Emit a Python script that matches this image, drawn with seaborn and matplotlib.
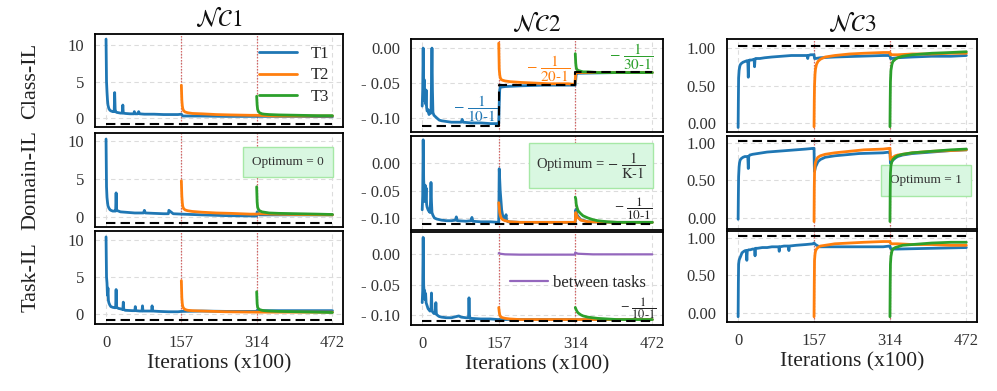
import matplotlib
matplotlib.use("Agg")
import matplotlib.pyplot as plt
from matplotlib.lines import Line2D
import seaborn as sns

# ---------------- data ----------------
TASK_BOUNDS = [157, 314]
X_TICKS = [0, 157, 314, 472]
X_TICK_LABELS = ["0", "157", "314", "472"]
ROW_NAMES = ["Class-IL", "Domain-IL", "Task-IL"]
COL_TITLES = [r"$\mathcal{NC}1$", r"$\mathcal{NC}2$", r"$\mathcal{NC}3$"]
TASK_NAMES = ["T1", "T2", "T3"]

# ---- NC1 ----
nc1_class_t1_x = [0, 1, 2, 3, 4, 6, 8, 10, 14, 17, 18, 19, 20, 22, 26, 30, 34, 35, 36, 40, 50, 58, 59, 60, 66, 68, 70, 80, 100, 120, 140, 150, 157, 160, 200, 250, 314, 350, 400, 472]
nc1_class_t1_y = [10.8, 5.0, 3.6, 2.5, 1.8, 1.3, 1.1, 1.0, 0.9, 0.9, 3.5, 1.2, 0.9, 0.8, 0.75, 0.7, 0.7, 1.8, 0.7, 0.65, 0.6, 0.6, 0.9, 0.6, 0.6, 0.9, 0.6, 0.55, 0.55, 0.5, 0.5, 0.5, 0.55, 0.3, 0.3, 0.25, 0.25, 0.25, 0.25, 0.2]
nc1_class_t2_x = [157, 158, 159, 160, 162, 165, 170, 180, 200, 230, 260, 300, 314, 350, 400, 472]
nc1_class_t2_y = [4.5, 2.5, 1.7, 1.3, 1.0, 0.85, 0.75, 0.65, 0.6, 0.5, 0.45, 0.4, 0.4, 0.3, 0.3, 0.3]
nc1_class_t3_x = [314, 315, 316, 318, 320, 325, 330, 340, 360, 400, 440, 472]
nc1_class_t3_y = [3.0, 1.8, 1.2, 0.9, 0.75, 0.6, 0.55, 0.5, 0.45, 0.4, 0.35, 0.35]

nc1_domain_t1_x = [0, 1, 2, 3, 4, 6, 8, 10, 14, 18, 20, 21, 22, 26, 30, 40, 50, 60, 70, 78, 80, 82, 100, 120, 130, 131, 140, 157, 200, 250, 314, 315, 320, 400, 472]
nc1_domain_t1_y = [10.3, 4.0, 2.6, 2.0, 1.5, 1.2, 1.0, 0.9, 0.8, 0.8, 0.8, 3.2, 0.9, 0.8, 0.7, 0.65, 0.6, 0.55, 0.55, 0.55, 0.9, 0.55, 0.5, 0.45, 0.45, 0.9, 0.45, 0.4, 0.3, 0.2, 0.15, 0.7, 0.3, 0.3, 0.3]
nc1_domain_t2_x = [157, 158, 159, 160, 162, 165, 170, 180, 200, 230, 260, 300, 314, 320, 350, 400, 472]
nc1_domain_t2_y = [4.8, 2.8, 1.9, 1.4, 1.1, 0.95, 0.85, 0.75, 0.65, 0.55, 0.5, 0.4, 0.4, 0.45, 0.4, 0.35, 0.3]
nc1_domain_t3_x = [314, 315, 316, 318, 320, 325, 330, 340, 360, 400, 440, 472]
nc1_domain_t3_y = [4.0, 2.0, 1.3, 1.0, 0.85, 0.7, 0.65, 0.55, 0.5, 0.45, 0.4, 0.35]

nc1_task_t1_x = [0, 1, 2, 3, 4, 5, 6, 8, 10, 14, 18, 20, 21, 22, 26, 30, 35, 36, 37, 40, 55, 60, 61, 62, 70, 75, 76, 77, 90, 95, 96, 97, 110, 130, 150, 157, 200, 250, 314, 315, 320, 400, 472]
nc1_task_t1_y = [10.4, 5.0, 4.2, 2.5, 3.5, 1.8, 1.5, 1.2, 1.0, 0.9, 0.85, 0.85, 3.3, 0.9, 0.75, 0.7, 0.6, 1.6, 0.6, 0.5, 0.45, 0.45, 1.0, 0.45, 0.4, 0.4, 1.1, 0.4, 0.4, 0.4, 1.1, 0.4, 0.35, 0.3, 0.3, 0.35, 0.4, 0.35, 0.35, 0.5, 0.45, 0.45, 0.45]
nc1_task_t2_x = [157, 158, 159, 160, 162, 165, 170, 180, 200, 250, 314, 350, 400, 472]
nc1_task_t2_y = [4.5, 2.2, 1.4, 1.0, 0.75, 0.6, 0.5, 0.45, 0.4, 0.3, 0.25, 0.25, 0.25, 0.25]
nc1_task_t3_x = [314, 315, 316, 318, 320, 325, 330, 340, 360, 400, 440, 472]
nc1_task_t3_y = [3.0, 1.4, 0.9, 0.7, 0.6, 0.5, 0.45, 0.4, 0.35, 0.3, 0.25, 0.2]

nc1_optimum_x = [0, 472]
nc1_optimum_y = [-0.8, -0.8]

# ---- NC2 ----
nc2_class_t1_x = [0, 1, 2, 3, 4, 5, 6, 7, 8, 9, 10, 12, 14, 16, 18, 19, 20, 21, 22, 24, 27, 30, 35, 40, 50, 60, 70, 80, 82, 84, 100, 120, 140, 156, 157, 158, 159, 160, 170, 200, 250, 313, 314, 315, 316, 320, 400, 472]
nc2_class_t1_y = [-0.083, -0.06, 0.0, -0.06, -0.045, -0.075, -0.065, -0.08, -0.06, -0.085, -0.09, -0.088, -0.095, -0.09, -0.093, -0.05, 0.0, -0.06, -0.092, -0.096, -0.098, -0.1, -0.103, -0.104, -0.105, -0.106, -0.106, -0.106, -0.102, -0.106, -0.107, -0.107, -0.108, -0.108, -0.108, -0.08, -0.06, -0.056, -0.055, -0.054, -0.053, -0.053, -0.053, -0.045, -0.037, -0.036, -0.035, -0.035]
nc2_class_t2_x = [157, 158, 159, 160, 162, 165, 170, 180, 200, 230, 260, 300, 313, 314, 315, 316, 320, 360, 400, 472]
nc2_class_t2_y = [0.007, -0.03, -0.038, -0.042, -0.045, -0.046, -0.047, -0.048, -0.049, -0.05, -0.051, -0.051, -0.052, -0.045, -0.036, -0.035, -0.035, -0.035, -0.035, -0.035]
nc2_class_t3_x = [314, 315, 316, 317, 318, 320, 325, 330, 340, 360, 400, 472]
nc2_class_t3_y = [-0.008, -0.022, -0.028, -0.03, -0.031, -0.032, -0.033, -0.034, -0.034, -0.035, -0.035, -0.035]
nc2_class_optimum_x = [0, 157, 157, 314, 314, 472]
nc2_class_optimum_y = [-0.1111, -0.1111, -0.0526, -0.0526, -0.0345, -0.0345]

nc2_domain_t1_x = [0, 1, 2, 3, 4, 5, 6, 7, 8, 9, 10, 12, 14, 16, 17, 18, 19, 20, 22, 25, 30, 40, 50, 60, 68, 70, 72, 90, 100, 102, 104, 120, 140, 156, 157, 158, 160, 163, 166, 170, 171, 172, 173, 176, 200, 250, 313, 314, 315, 318, 325, 340, 400, 472]
nc2_domain_t1_y = [-0.085, -0.06, 0.043, -0.03, -0.05, -0.07, -0.04, -0.065, -0.045, -0.075, -0.08, -0.085, -0.088, -0.09, -0.07, -0.035, -0.07, -0.09, -0.095, -0.1, -0.102, -0.104, -0.105, -0.105, -0.104, -0.098, -0.105, -0.106, -0.105, -0.099, -0.106, -0.107, -0.107, -0.108, -0.108, -0.01, -0.05, -0.085, -0.1, -0.104, -0.098, -0.094, -0.104, -0.107, -0.108, -0.108, -0.108, -0.107, -0.085, -0.095, -0.103, -0.107, -0.108, -0.108]
nc2_domain_t2_x = [157, 158, 159, 160, 162, 165, 170, 180, 200, 250, 313, 314, 315, 318, 325, 340, 400, 472]
nc2_domain_t2_y = [-0.072, -0.08, -0.09, -0.095, -0.1, -0.103, -0.105, -0.107, -0.108, -0.108, -0.108, -0.106, -0.09, -0.098, -0.104, -0.107, -0.108, -0.108]
nc2_domain_t3_x = [314, 315, 316, 318, 320, 325, 330, 340, 350, 360, 380, 400, 440, 472]
nc2_domain_t3_y = [-0.062, -0.065, -0.075, -0.082, -0.087, -0.092, -0.096, -0.1, -0.103, -0.105, -0.107, -0.108, -0.108, -0.108]

nc2_task_t1_x = [0, 1, 2, 3, 4, 5, 6, 7, 8, 10, 12, 14, 16, 18, 19, 20, 21, 22, 24, 27, 28, 29, 30, 33, 35, 40, 50, 60, 70, 75, 80, 90, 95, 96, 97, 98, 100, 120, 140, 156, 157, 200, 250, 314, 400, 472]
nc2_task_t1_y = [-0.08, -0.06, 0.028, -0.05, -0.065, -0.06, -0.075, -0.065, -0.08, -0.085, -0.09, -0.092, -0.094, -0.09, -0.064, -0.09, -0.095, -0.096, -0.098, -0.098, -0.08, -0.098, -0.1, -0.102, -0.103, -0.104, -0.105, -0.105, -0.103, -0.102, -0.104, -0.105, -0.105, -0.072, -0.1, -0.106, -0.106, -0.107, -0.107, -0.108, -0.108, -0.108, -0.108, -0.108, -0.108, -0.108]
nc2_task_t2_x = [157, 158, 159, 160, 162, 165, 170, 180, 200, 250, 314, 400, 472]
nc2_task_t2_y = [-0.088, -0.095, -0.1, -0.102, -0.104, -0.105, -0.106, -0.107, -0.108, -0.108, -0.108, -0.108, -0.108]
nc2_task_t3_x = [314, 315, 316, 318, 320, 325, 330, 340, 350, 360, 380, 400, 472]
nc2_task_t3_y = [-0.088, -0.09, -0.092, -0.095, -0.097, -0.1, -0.102, -0.104, -0.105, -0.106, -0.107, -0.108, -0.108]
nc2_between_x = [157, 160, 170, 200, 250, 300, 313, 314, 316, 320, 350, 400, 472]
nc2_between_y = [0.002, 0.001, 0.0, -0.0005, -0.0005, -0.0005, -0.0005, 0.003, 0.002, 0.001, 0.0, 0.0, 0.0]
nc2_optimum_x = [0, 472]
nc2_optimum_y = [-0.1111, -0.1111]

# ---- NC3 ----
nc3_class_t1_x = [0, 0.5, 1, 2, 3, 4, 6, 8, 10, 14, 18, 20, 21, 22, 24, 28, 33, 34, 35, 36, 38, 45, 55, 70, 90, 110, 130, 143, 144, 145, 150, 156, 157, 158, 160, 170, 200, 250, 300, 313, 314, 315, 318, 330, 360, 400, 440, 472]
nc3_class_t1_y = [-0.06, 0.3, 0.6, 0.7, 0.74, 0.77, 0.79, 0.8, 0.81, 0.82, 0.83, 0.83, 0.61, 0.83, 0.84, 0.84, 0.85, 0.75, 0.85, 0.86, 0.86, 0.86, 0.87, 0.88, 0.89, 0.9, 0.9, 0.9, 0.86, 0.9, 0.91, 0.91, 0.91, 0.86, 0.86, 0.87, 0.88, 0.89, 0.9, 0.9, 0.9, 0.86, 0.86, 0.87, 0.88, 0.89, 0.89, 0.9]
nc3_class_t2_x = [157, 157.5, 158, 159, 160, 162, 165, 170, 180, 200, 230, 260, 300, 313, 314, 315, 318, 330, 360, 400, 440, 472]
nc3_class_t2_y = [-0.05, 0.3, 0.5, 0.65, 0.72, 0.78, 0.82, 0.85, 0.88, 0.9, 0.92, 0.93, 0.94, 0.94, 0.94, 0.91, 0.91, 0.91, 0.92, 0.92, 0.93, 0.93]
nc3_class_t3_x = [314, 314.5, 315, 316, 318, 320, 325, 330, 340, 360, 380, 400, 440, 472]
nc3_class_t3_y = [-0.05, 0.3, 0.55, 0.7, 0.78, 0.82, 0.85, 0.87, 0.89, 0.91, 0.92, 0.93, 0.94, 0.95]

nc3_domain_t1_x = [0, 0.5, 1, 2, 3, 4, 6, 8, 10, 14, 18, 20, 21, 22, 24, 30, 40, 60, 80, 100, 120, 140, 156, 157, 157.5, 158, 160, 165, 170, 180, 200, 250, 300, 313, 314, 315, 318, 325, 330, 340, 360, 400, 440, 472]
nc3_domain_t1_y = [-0.02, 0.3, 0.55, 0.68, 0.74, 0.77, 0.79, 0.8, 0.81, 0.82, 0.82, 0.82, 0.66, 0.82, 0.84, 0.85, 0.86, 0.88, 0.89, 0.9, 0.91, 0.92, 0.93, 0.93, 0.7, 0.62, 0.68, 0.75, 0.78, 0.81, 0.83, 0.86, 0.87, 0.88, 0.88, 0.73, 0.76, 0.8, 0.82, 0.84, 0.86, 0.88, 0.9, 0.91]
nc3_domain_t2_x = [157, 157.5, 158, 159, 160, 162, 165, 170, 180, 200, 230, 260, 300, 313, 314, 315, 318, 325, 330, 340, 360, 400, 440, 472]
nc3_domain_t2_y = [-0.05, 0.4, 0.6, 0.7, 0.74, 0.78, 0.81, 0.83, 0.85, 0.87, 0.89, 0.91, 0.92, 0.93, 0.93, 0.78, 0.8, 0.83, 0.84, 0.85, 0.87, 0.89, 0.9, 0.91]
nc3_domain_t3_x = [314, 314.5, 315, 316, 318, 320, 325, 330, 340, 360, 380, 400, 440, 472]
nc3_domain_t3_y = [-0.05, 0.35, 0.6, 0.7, 0.75, 0.78, 0.81, 0.83, 0.85, 0.87, 0.88, 0.89, 0.91, 0.92]

nc3_task_t1_x = [0, 0.5, 1, 2, 3, 5, 8, 12, 15, 17, 18, 19, 22, 25, 30, 34, 35, 36, 40, 50, 60, 70, 84, 85, 86, 95, 104, 105, 106, 120, 140, 156, 157, 160, 165, 170, 200, 250, 300, 313, 314, 315, 318, 330, 400, 472]
nc3_task_t1_y = [-0.05, 0.4, 0.65, 0.7, 0.72, 0.75, 0.8, 0.82, 0.83, 0.83, 0.7, 0.83, 0.84, 0.84, 0.85, 0.85, 0.76, 0.86, 0.86, 0.87, 0.87, 0.88, 0.88, 0.82, 0.88, 0.89, 0.89, 0.83, 0.89, 0.9, 0.91, 0.92, 0.93, 0.91, 0.89, 0.88, 0.88, 0.88, 0.88, 0.89, 0.89, 0.86, 0.85, 0.85, 0.86, 0.87]
nc3_task_t2_x = [157, 157.5, 158, 159, 160, 162, 165, 170, 180, 200, 230, 260, 300, 313, 314, 315, 318, 330, 360, 400, 440, 472]
nc3_task_t2_y = [-0.05, 0.4, 0.7, 0.78, 0.82, 0.85, 0.87, 0.89, 0.9, 0.92, 0.93, 0.94, 0.95, 0.95, 0.95, 0.93, 0.92, 0.92, 0.91, 0.91, 0.9, 0.9]
nc3_task_t3_x = [314, 314.5, 315, 316, 318, 320, 325, 330, 340, 360, 380, 400, 440, 472]
nc3_task_t3_y = [-0.05, 0.4, 0.65, 0.75, 0.82, 0.85, 0.87, 0.88, 0.9, 0.91, 0.92, 0.93, 0.94, 0.94]
nc3_optimum_x = [0, 472]
nc3_optimum_y = [1.03, 1.03]

# tick setup per column
nc1_yticks = [0, 5, 10]
nc1_yticklabels = ["0", "5", "10"]
nc2_yticks = [-0.10, -0.05, 0.0]
nc2_yticklabels = ["- 0.10", "- 0.05", "0.00"]
nc3_yticks = [0.0, 0.5, 1.0]
nc3_yticklabels = ["0.00", "0.50", "1.00"]

# ---------------- style ----------------
sns.set_theme(style="whitegrid")
plt.rcParams["font.family"] = ["Liberation Serif", "DejaVu Serif"]
plt.rcParams["mathtext.fontset"] = "stix"

COLORS = ["#1f77b4", "#ff7f0e", "#2ca02c"]
PURPLE = "#9467bd"

W, H = 997, 391
fig = plt.figure(figsize=(W / 100, H / 100), dpi=100)

# pixel boxes: (left, right) per column, (top, bottom) per column and row
col_x = [(95, 343), (411, 663), (727, 977)]
col_rows = [
    [(34, 127), (133, 227), (231, 324)],
    [(39, 132), (136, 230), (232, 325)],
    [(39, 132), (136, 229), (231, 322)],
]
col_ylims = [
    [(-1.2, 11.5), (-1.3, 11.1), (-1.35, 11.2)],
    [(-0.12, 0.013), (-0.122, 0.05), (-0.117, 0.037)],
    [(-0.12, 1.12), (-0.15, 1.095), (-0.12, 1.09)],
]

curves = [
    [
        [(nc1_class_t1_x, nc1_class_t1_y), (nc1_class_t2_x, nc1_class_t2_y), (nc1_class_t3_x, nc1_class_t3_y)],
        [(nc1_domain_t1_x, nc1_domain_t1_y), (nc1_domain_t2_x, nc1_domain_t2_y), (nc1_domain_t3_x, nc1_domain_t3_y)],
        [(nc1_task_t1_x, nc1_task_t1_y), (nc1_task_t2_x, nc1_task_t2_y), (nc1_task_t3_x, nc1_task_t3_y)],
    ],
    [
        [(nc2_class_t1_x, nc2_class_t1_y), (nc2_class_t2_x, nc2_class_t2_y), (nc2_class_t3_x, nc2_class_t3_y)],
        [(nc2_domain_t1_x, nc2_domain_t1_y), (nc2_domain_t2_x, nc2_domain_t2_y), (nc2_domain_t3_x, nc2_domain_t3_y)],
        [(nc2_task_t1_x, nc2_task_t1_y), (nc2_task_t2_x, nc2_task_t2_y), (nc2_task_t3_x, nc2_task_t3_y)],
    ],
    [
        [(nc3_class_t1_x, nc3_class_t1_y), (nc3_class_t2_x, nc3_class_t2_y), (nc3_class_t3_x, nc3_class_t3_y)],
        [(nc3_domain_t1_x, nc3_domain_t1_y), (nc3_domain_t2_x, nc3_domain_t2_y), (nc3_domain_t3_x, nc3_domain_t3_y)],
        [(nc3_task_t1_x, nc3_task_t1_y), (nc3_task_t2_x, nc3_task_t2_y), (nc3_task_t3_x, nc3_task_t3_y)],
    ],
]
optima = [
    [(nc1_optimum_x, nc1_optimum_y)] * 3,
    [(nc2_class_optimum_x, nc2_class_optimum_y), (nc2_optimum_x, nc2_optimum_y), (nc2_optimum_x, nc2_optimum_y)],
    [(nc3_optimum_x, nc3_optimum_y)] * 3,
]
yticks = [(nc1_yticks, nc1_yticklabels), (nc2_yticks, nc2_yticklabels), (nc3_yticks, nc3_yticklabels)]

axes = [[None] * 3 for _ in range(3)]
for c in range(3):
    xl, xr = col_x[c]
    for r in range(3):
        yt, yb = col_rows[c][r]
        ax = fig.add_axes([xl / W, 1 - yb / H, (xr - xl) / W, (yb - yt) / H])
        axes[c][r] = ax
        for t, (xs, ys) in enumerate(curves[c][r]):
            sns.lineplot(x=xs, y=ys, ax=ax, color=COLORS[t], linewidth=2.0,
                         estimator=None, sort=False, legend=False, zorder=2 + t)
        if c == 1 and r == 2:
            sns.lineplot(x=nc2_between_x, y=nc2_between_y, ax=ax, color=PURPLE,
                         linewidth=1.6, estimator=None, sort=False, legend=False, zorder=2)
        ox, oy = optima[c][r]
        sns.lineplot(x=ox, y=oy, ax=ax, color="black", linewidth=1.5, estimator=None,
                     sort=False, legend=False, zorder=6, linestyle=(0, (4.5, 2.5)))
        for b in TASK_BOUNDS:
            ax.axvline(b, color="#d05050", linestyle=(0, (1.2, 1.2)), linewidth=0.9,
                       alpha=0.85, zorder=1.5)
        ax.set_xlim(-23, 494)
        ax.set_ylim(*col_ylims[c][r])
        ax.set_xticks(X_TICKS)
        ax.set_yticks(yticks[c][0])
        ax.set_yticklabels(yticks[c][1])
        if r == 2:
            ax.set_xticklabels(X_TICK_LABELS)
            ax.set_xlabel("Iterations (x100)", fontsize=15.5, color="#222222", labelpad=2)
        else:
            ax.set_xticklabels([])
            ax.set_xlabel("")
        ax.set_ylabel("")
        ax.tick_params(axis="both", length=0, pad=8, labelsize=12, labelcolor="#333333")
        ax.grid(True, color="#dcdcdc", linestyle=(0, (4, 3)), linewidth=0.8)
        for s in ax.spines.values():
            s.set_color("black")
            s.set_linewidth(1.3)
        if c == 0:
            ax.set_ylabel(ROW_NAMES[r], fontsize=16, color="#222222")
            ax.yaxis.set_label_coords(-0.22, 0.5)
        if r == 0:
            ax.set_title(COL_TITLES[c], fontsize=17, pad=6, color="#111111")

# legend T1..T3
handles = [Line2D([0], [0], color=COLORS[i], lw=2) for i in range(3)]
axes[0][0].legend(handles, TASK_NAMES, loc="upper right", frameon=False, fontsize=12,
                  handlelength=2.3, labelspacing=0.35, borderaxespad=0.3,
                  bbox_to_anchor=(0.99, 1.0))
# legend between tasks
axes[1][2].legend([Line2D([0], [0], color=PURPLE, lw=1.6)], ["between tasks"],
                  loc="center right", frameon=False, fontsize=12, handlelength=2.3,
                  handletextpad=0.3, borderaxespad=0, bbox_to_anchor=(0.96, 0.45))

# fraction annotations
frac10 = r"$-\ \dfrac{1}{10\text{-}1}$"
axes[1][0].text(108, -0.087, frac10, color=COLORS[0], fontsize=11, ha="center", va="center")
axes[1][0].text(259, -0.029, r"$-\ \dfrac{1}{20\text{-}1}$", color=COLORS[1], fontsize=11, ha="center", va="center")
axes[1][0].text(428, -0.012, r"$-\ \dfrac{1}{30\text{-}1}$", color=COLORS[2], fontsize=11, ha="center", va="center")
axes[1][1].text(433, -0.083, frac10, color="#222222", fontsize=9.5, ha="center", va="center")
axes[1][2].text(443, -0.089, frac10, color="#222222", fontsize=9, ha="center", va="center")

box = dict(boxstyle="square,pad=0.7", facecolor="#d9f7e1", edgecolor="#a6e8a6", linewidth=1)
axes[0][1].text(380, 7.3, "Optimum = 0", fontsize=9.5, ha="center", va="center", bbox=box, color="#333333")
axes[2][1].text(388, 0.5, "Optimum = 1", fontsize=9.5, ha="center", va="center", bbox=box, color="#333333")
axes[1][1].text(346, -0.004, r"Optimum = $-\ \dfrac{1}{\mathrm{K}\text{-}1}$", fontsize=10.5, ha="center",
                va="center", bbox=dict(boxstyle="square,pad=0.5", facecolor="#d9f7e1",
                                       edgecolor="#a6e8a6", linewidth=1), color="#333333")

fig.savefig("out.png", dpi=100)
